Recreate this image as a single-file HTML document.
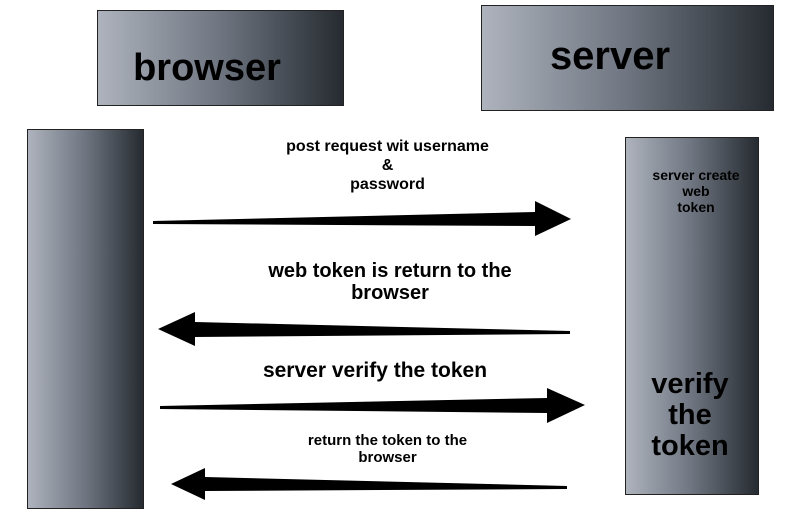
<!DOCTYPE html>
<html><head><style>
body{margin:0;width:797px;height:524px;background:#fff;position:relative;overflow:hidden;font-family:"Liberation Sans",sans-serif;font-weight:bold;color:#000}
.g{position:absolute;background:linear-gradient(to right,#aeb3bd,#6e7580 50%,#262b31);border:1px solid #222;box-sizing:border-box}
.t{position:absolute;text-align:center;line-height:1.1}
</style></head><body>
<div class="g" style="left:97px;top:10px;width:247px;height:96px"></div>
<div class="g" style="left:481px;top:5px;width:293px;height:106px"></div>
<div class="g" style="left:27px;top:129px;width:117px;height:380px"></div>
<div class="g" style="left:625px;top:137px;width:134px;height:358px"></div>
<div class="t" style="left:97px;top:48px;width:220px;font-size:38px">browser</div>
<div class="t" style="left:520px;top:34px;width:180px;font-size:40px">server</div>
<div class="t" style="left:270px;top:137px;width:235px;font-size:16px;line-height:1.2">post request wit username<br>&amp;<br>password</div>
<div class="t" style="left:636px;top:167px;width:120px;font-size:14px;line-height:1.15">server create<br>web<br>token</div>
<div class="t" style="left:240px;top:260px;width:300px;font-size:20px">web token is return to the<br>browser</div>
<div class="t" style="left:240px;top:359px;width:270px;font-size:21px">server verify the token</div>
<div class="t" style="left:270px;top:432px;width:235px;font-size:15px;line-height:1.15">return the token to the<br>browser</div>
<div class="t" style="left:630px;top:369px;width:120px;font-size:29px;line-height:1.07">verify<br>the<br>token</div>
<svg width="797" height="524" style="position:absolute;left:0;top:0">
<polygon points="153,221 535,212 535,201 571,219 535,236 535,226 153,224"/>
<polygon points="570,331 195,322 195,312 158,329 195,346 195,337 570,334"/>
<polygon points="160,406 547,398 547,388 585,405 547,423 547,413 160,409"/>
<polygon points="567,486 205,477 205,468 171,484 205,500 205,491 567,489"/>
</svg>
</body></html>
